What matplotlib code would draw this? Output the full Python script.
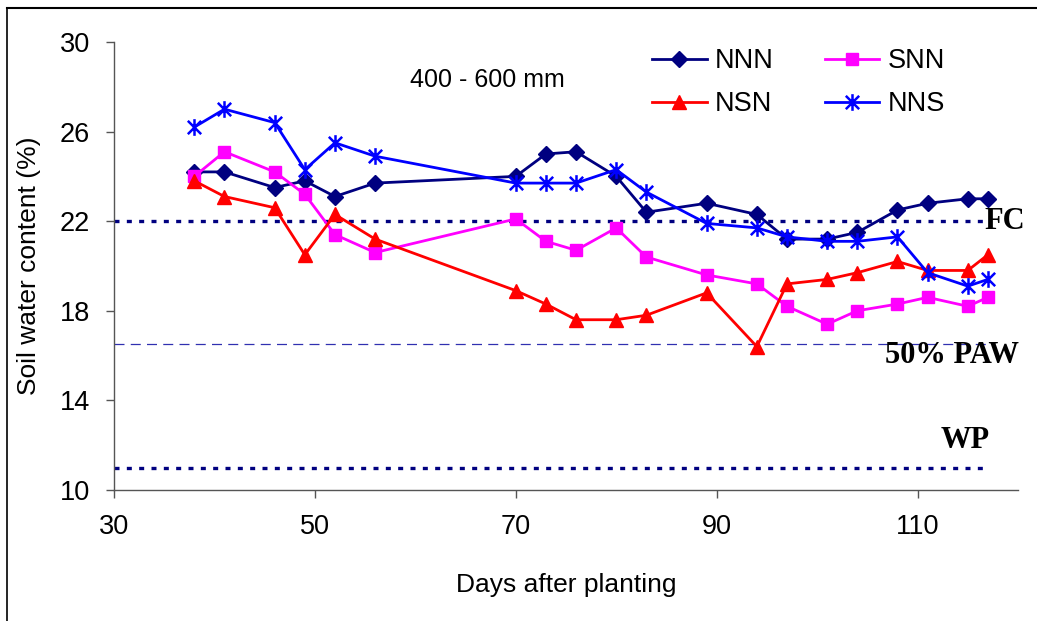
import matplotlib
matplotlib.use("Agg")
import matplotlib.pyplot as plt
from matplotlib.path import Path
from matplotlib.lines import Line2D

plt.rcParams['font.family'] = ['Liberation Sans', 'DejaVu Sans']

# Data
days = [38, 41, 46, 49, 52, 56, 70, 73, 76, 80, 83, 89, 94, 97, 101, 104, 108, 111, 115, 117]
nnn = [24.2, 24.2, 23.5, 23.8, 23.1, 23.7, 24.0, 25.0, 25.1, 24.0, 22.4, 22.8,
       22.3, 21.2, 21.2, 21.5, 22.5, 22.8, 23.0, 23.0]
snn = [24.0, 25.1, 24.2, 23.2, 21.4, 20.6, 22.1, 21.1, 20.7, 21.7, 20.4, 19.6,
       19.2, 18.2, 17.4, 18.0, 18.3, 18.6, 18.2, 18.6]
nsn = [23.8, 23.1, 22.6, 20.5, 22.3, 21.2, 18.9, 18.3, 17.6, 17.6, 17.8, 18.8,
       16.4, 19.2, 19.4, 19.7, 20.2, 19.8, 19.8, 20.5]
nns = [26.2, 27.0, 26.4, 24.3, 25.5, 24.9, 23.7, 23.7, 23.7, 24.3, 23.3, 21.9,
       21.7, 21.3, 21.1, 21.1, 21.3, 19.7, 19.1, 19.4]

ref_x = [30, 117]
fc = 22.0
paw50 = 16.5
wp = 11.0

# asterisk marker: vertical bar plus an X
star = Path([(0, -1), (0, 1), (-0.8, -0.8), (0.8, 0.8), (-0.8, 0.8), (0.8, -0.8)],
            [Path.MOVETO, Path.LINETO, Path.MOVETO, Path.LINETO, Path.MOVETO, Path.LINETO])

fig = plt.figure(figsize=(10.37, 6.21), dpi=100)
ax = fig.add_axes([0.1099, 0.2110, 0.8718, 0.7214])

ax.plot(ref_x, [fc, fc], color='#000080', lw=2.4, ls=(0, (1.5, 2.2)))
ax.plot(ref_x, [paw50, paw50], color='#3030B0', lw=0.9, ls=(0, (8, 5)))
ax.plot(ref_x, [wp, wp], color='#000080', lw=2.4, ls=(0, (1.5, 2.2)))

l_nnn, = ax.plot(days, nnn, color='#000080', lw=2.0, marker='D', ms=8, label='NNN')
l_snn, = ax.plot(days, snn, color='#FF00FF', lw=2.0, marker='s', ms=9, label='SNN')
l_nsn, = ax.plot(days, nsn, color='#FF0000', lw=2.0, marker='^', ms=10, label='NSN')
l_nns, = ax.plot(days, nns, color='#0000FF', lw=2.0, marker=star, ms=12, mew=1.8, label='NNS')

ax.set_xlim(30, 120)
ax.set_ylim(10, 30)
ax.set_xticks([30, 50, 70, 90, 110])
ax.set_yticks([10, 14, 18, 22, 26, 30])
for s in ['top', 'right']:
    ax.spines[s].set_visible(False)
for s in ['left', 'bottom']:
    ax.spines[s].set_color('#555555')
    ax.spines[s].set_linewidth(1.0)
ax.tick_params(direction='out', length=6, width=1, color='#555555',
               labelsize=19.5, pad=11)

ax.set_xlabel('Days after planting', fontsize=19, labelpad=24)
ax.set_ylabel('Soil water content (%)', fontsize=19, labelpad=14)

ax.text(67.2, 28.3, '400 - 600 mm', fontsize=18, ha='center', va='center')
ax.text(118.7, 22.0, 'FC', fontsize=22, fontweight='bold', family='Liberation Serif',
        ha='center', va='center', clip_on=False)
ax.text(113.4, 16.0, '50% PAW', fontsize=22, fontweight='bold', family='Liberation Serif',
        ha='center', va='center', clip_on=False)
ax.text(114.7, 12.2, 'WP', fontsize=22, fontweight='bold', family='Liberation Serif',
        ha='center', va='center', clip_on=False)

# column-first fill: NNN/NSN in column 1, SNN/NNS in column 2
ax.legend(handles=[l_nnn, l_nsn, l_snn, l_nns],
          loc='upper left', bbox_to_anchor=(628 / 1037, 1 - 24 / 621),
          bbox_transform=fig.transFigure, ncol=2, frameon=False, fontsize=19.5,
          handlelength=2.0, handletextpad=0.3, columnspacing=1.9, labelspacing=0.62)

# figure border lines (top and left)
fig.add_artist(Line2D([7 / 1037, 7 / 1037], [0, 1 - 8 / 621], color='black', lw=1.2))
fig.add_artist(Line2D([7 / 1037, 1], [1 - 8 / 621, 1 - 8 / 621], color='black', lw=1.5))

fig.savefig('out.png', dpi=100)
